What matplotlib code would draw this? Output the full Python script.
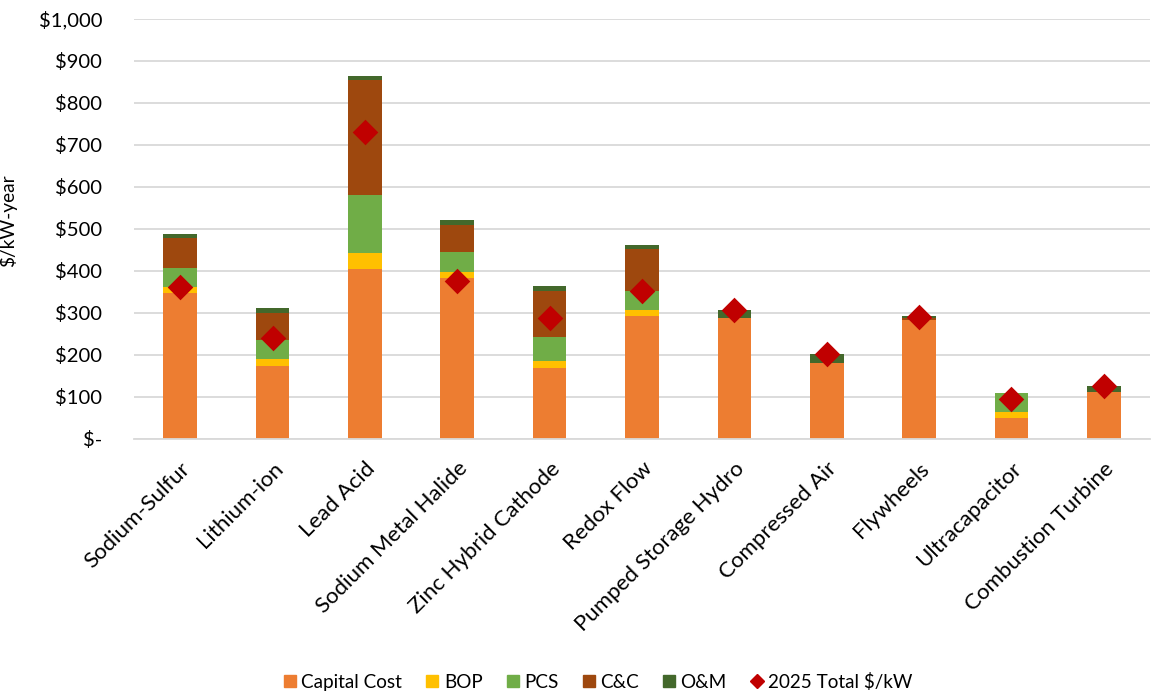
import matplotlib
matplotlib.use("Agg")
import matplotlib.pyplot as plt
import numpy as np
from matplotlib.ticker import FuncFormatter

plt.rcParams['font.family'] = ['Lato', 'DejaVu Sans']

categories = ["Sodium-Sulfur", "Lithium-ion", "Lead Acid", "Sodium Metal Halide",
              "Zinc Hybrid Cathode", "Redox Flow", "Pumped Storage Hydro",
              "Compressed Air", "Flywheels", "Ultracapacitor", "Combustion Turbine"]
capital = [348, 174, 404, 384, 170, 292, 288, 182, 284, 51, 112]
bop     = [15, 16, 40, 14, 16, 14, 0, 0, 0, 13, 0]
pcs     = [45, 46, 137, 48, 57, 46, 0, 0, 0, 45, 0]
cc      = [70, 65, 273, 63, 110, 100, 0, 0, 4, 0, 0]
om      = [11, 10, 10, 12, 11, 11, 19, 20, 5, 0, 14]
total_2025 = [363, 241, 730, 376, 287, 352, 307, 202, 290, 96, 126]

series_names = ["Capital Cost", "BOP", "PCS", "C&C", "O&M"]
colors = ["#ED7D31", "#FFC000", "#70AD47", "#9E480E", "#43682B"]

fig = plt.figure(figsize=(11.53, 6.94), dpi=100)
ax = fig.add_axes([134/1153, 1 - 439/694, (1150-134)/1153, (439-19)/694])

x = np.arange(len(categories))
bottom = np.zeros(len(categories))
for name, vals, c in zip(series_names, [capital, bop, pcs, cc, om], colors):
    ax.bar(x, vals, 0.365, bottom=bottom, color=c, label=name, zorder=2)
    bottom += np.array(vals)

ax.scatter(x, total_2025, marker='D', s=170, color="#C00000", zorder=3,
           label="2025 Total $/kW", linewidths=0)

ax.set_xlim(-0.5, len(categories) - 0.5)
ax.set_ylim(0, 1000)
ax.set_yticks(np.arange(0, 1001, 100))
ax.yaxis.set_major_formatter(FuncFormatter(lambda v, p: "$-" if v == 0 else "${:,.0f}".format(v)))
ax.grid(axis='y', color='#D9D9D9', linewidth=1.3, zorder=0)
ax.set_axisbelow(True)
for s in ['top', 'right', 'left']:
    ax.spines[s].set_visible(False)
ax.spines['bottom'].set_color('#D9D9D9')
ax.spines['bottom'].set_linewidth(1.3)
ax.tick_params(axis='both', length=0, colors='black')
ax.tick_params(axis='y', pad=23, labelsize=14.6)
ax.set_xticks(x)
ax.set_xticklabels(categories, rotation=45, ha='right', rotation_mode='anchor', fontsize=16)
ax.tick_params(axis='x', pad=14)
ax.set_ylabel("$/kW-year", fontsize=13.8)
ax.yaxis.set_label_coords((17 - 134) / 1016, (439 - 221) / 420)

leg_handles = [plt.Line2D([], [], marker='s', linestyle='', color=c, markersize=9) for c in colors]
leg_handles.append(plt.Line2D([], [], marker='D', linestyle='', color="#C00000", markersize=7.5))
fig.legend(leg_handles, series_names + ["2025 Total $/kW"], loc='center',
           bbox_to_anchor=(598/1153, 1 - 682/694), ncol=6, frameon=False, fontsize=13.6,
           handletextpad=0.25, columnspacing=1.25, handlelength=0.7)

fig.savefig("out.png", dpi=100)
